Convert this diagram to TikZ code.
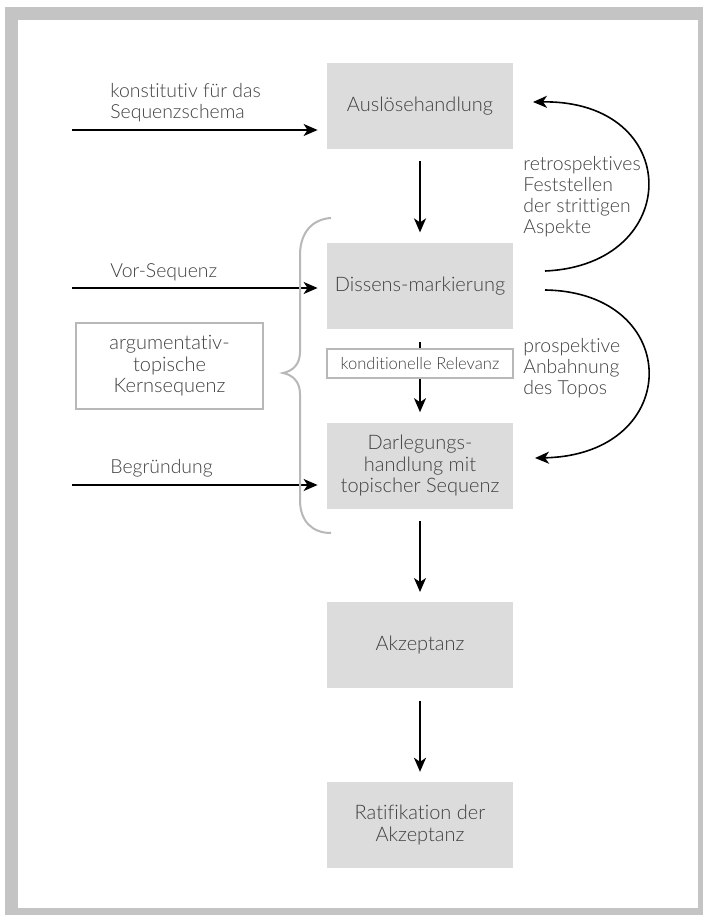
\documentclass[tikz,border=0pt]{standalone}
\usepackage{fontspec}
\setmainfont{Lato Light}[Ligatures=NoCommon]
\usetikzlibrary{positioning,arrows.meta,calc}
\definecolor{framegray}{HTML}{C4C4C4}
\definecolor{boxgray}{HTML}{DCDCDC}
\definecolor{txtgray}{HTML}{404040}
\definecolor{rulegray}{HTML}{B8B8B8}
\newcommand{\lblsize}{\fontsize{10}{10.8}\selectfont}
\newcommand{\sidesize}{\fontsize{9.7}{10.6}\selectfont}
\tikzset{
  flowbox/.style={fill=boxgray,minimum width=93pt,minimum height=43pt,inner sep=0pt,
    align=center,text=txtgray,font=\lblsize},
  notebox/.style={draw=rulegray,line width=1.2pt,fill=white,inner sep=0pt,align=center,
    text=txtgray},
  sidelbl/.style={anchor=west,align=left,text=txtgray,font=\sidesize,inner sep=0pt},
  flow/.style={-{Stealth[length=7pt,width=6pt,inset=2pt]},line width=1pt},
  loop/.style={-{Stealth[length=7pt,width=6pt,inset=2pt]},line width=0.8pt},
  brc/.style={draw=rulegray,line width=1pt},
}
\begin{document}
\begin{tikzpicture}[x=0.5pt,y=-0.5pt]
  \useasboundingbox (0,0) rectangle (703,915);
  % frame
  \fill[framegray] (5,7) rectangle (703,915);
  \fill[white] (18,20) rectangle (698,908);

  % main sequence
  \node[flowbox] (aus) at (420,106) {Auslösehandlung};
  \node[flowbox,below=46.5pt of aus] (dis) {Dissens-markierung};
  \node[flowbox,below=46.5pt of dis] (darl) {Darlegungs-\\handlung mit\\topischer Sequenz};
  \node[flowbox,below=46.5pt of darl] (akz) {Akzeptanz};
  \node[flowbox,below=46.5pt of akz] (rat) {Ratifikation der\\Akzeptanz};
  \node[notebox,minimum width=93pt,minimum height=14.5pt,font=\fontsize{8.3}{9}\selectfont]
    (kond) at (420,363.5) {konditionelle Relevanz};

  \draw[flow,shorten <=6pt,shorten >=5pt] (aus) -- (dis);
  \draw[line width=1pt,shorten <=6.5pt] (dis) -- (kond);
  \draw[flow,shorten >=5pt] (kond) -- (darl);
  \draw[flow,shorten <=6pt,shorten >=5pt] (darl) -- (akz);
  \draw[flow,shorten <=6pt,shorten >=5pt] (akz) -- (rat);

  % incoming arrows on the left
  \coordinate (inK) at (72,130);
  \coordinate (inV) at (72,288);
  \coordinate (inB) at (72,485);
  \draw[flow,shorten >=4.5pt] (inK) -- (inK -| aus.west);
  \draw[flow,shorten >=4.5pt] (inV) -- (inV -| dis.west);
  \draw[flow,shorten >=4.5pt] (inB) -- (inB -| darl.west);
  \node[sidelbl] (lblK) at (110,102.5) {konstitutiv für das\\Sequenzschema};
  \node[sidelbl] (lblV) at (110,272) {Vor-Sequenz};
  \node[sidelbl] (lblB) at (110,468) {Begründung};

  % brace and core sequence
  \draw[brc] (331,218) .. controls (313,219) and (300,232) .. (300,255)
    -- (300,352) .. controls (300,364) and (293,371) .. (283,373)
    .. controls (293,375) and (300,382) .. (300,394)
    -- (300,500) .. controls (300,521) and (312,533) .. (331,533);
  \node[notebox,font=\lblsize,minimum width=93.5pt,minimum height=43pt]
    (kern) at (169.5,366) {argumentativ-\\topische\\Kernsequenz};

  % loops on the right
  \coordinate (retS) at (545,271);
  \coordinate (retE) at (533,102);
  \coordinate (proS) at (545,290);
  \coordinate (proE) at (535,458);
  \draw[loop] (retS) .. controls (684,265) and (684,100) .. (retE);
  \draw[loop] (proS) .. controls (684,292) and (684,455) .. (proE);
  \node[sidelbl] (lblR) at (523,196.5) {retrospektives\\Feststellen\\der strittigen\\Aspekte};
  \node[sidelbl] (lblP) at (523,368) {prospektive\\Anbahnung\\des Topos};
\end{tikzpicture}
\end{document}
